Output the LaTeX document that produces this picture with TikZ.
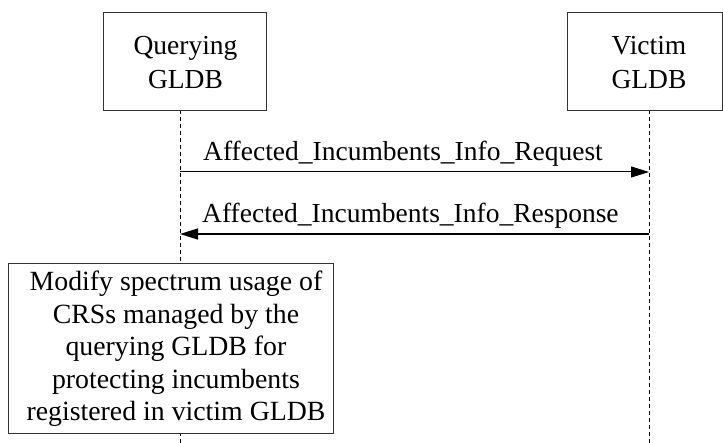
\documentclass[tikz,border=0pt]{standalone}
\usepackage{fontspec}
\setmainfont{Liberation Serif}
\usetikzlibrary{arrows.meta}
\begin{document}
\begin{tikzpicture}[x=1pt,y=-1pt,
  actor/.style={draw=black!80,line width=0.8pt,fill=white,inner sep=0pt},
  lifeline/.style={draw=black,line width=0.6pt,dash pattern=on 4pt off 3pt},
  msg/.style={draw=black,line width=1pt,-{Triangle[length=18pt,width=11pt]}},
  lbl/.style={font=\fontsize{27.5}{33}\selectfont,inner sep=0pt},
  txt/.style={font=\fontsize{27.5}{34}\selectfont,align=center,inner sep=0pt},
  acttxt/.style={font=\fontsize{27.8}{32.6}\selectfont,align=center,inner sep=0pt}]
\useasboundingbox (0,0) rectangle (723,443);
% lifelines
\coordinate (qtop) at (180,110);
\coordinate (qbot) at (180,443);
\coordinate (vtop) at (649,110);
\coordinate (vbot) at (649,443);
\draw[lifeline] (qtop) -- (qbot);
\draw[lifeline] (vtop) -- (vbot);
% actor boxes
\draw[actor] (103,12) rectangle (266,110);
\node[txt] (q) at (185.5,63) {Querying\\GLDB};
\draw[actor] (567,12) rectangle (722,110);
\node[txt] (v) at (649,63) {Victim\\GLDB};
% messages
\coordinate (r1a) at (180,172);
\coordinate (r1b) at (649,172);
\draw[msg] (r1a) -- (r1b);
\node[lbl,anchor=base west] (l1) at (203,161) {Affected\_Incumbents\_Info\_Request};
\coordinate (r2a) at (649,234);
\coordinate (r2b) at (180,234);
\draw[msg,line width=1.3pt] (r2a) -- (r2b);
\node[lbl,anchor=base west] (l2) at (202,223) {Affected\_Incumbents\_Info\_Response};
% action box
\draw[actor] (8,263) rectangle (333,433);
\node[acttxt] (act) at (176,349) {Modify spectrum usage of\\CRSs managed by the\\querying GLDB for\\protecting incumbents\\registered in victim GLDB};
\end{tikzpicture}
\end{document}
